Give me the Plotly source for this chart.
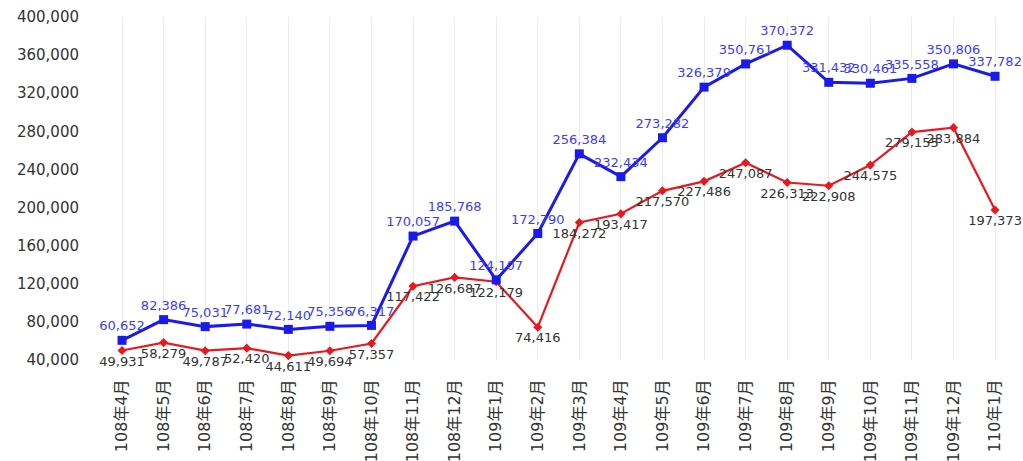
import plotly.graph_objects as go

months = ["108年4月", "108年5月", "108年6月", "108年7月", "108年8月", "108年9月", "108年10月",
          "108年11月", "108年12月", "109年1月", "109年2月", "109年3月", "109年4月", "109年5月",
          "109年6月", "109年7月", "109年8月", "109年9月", "109年10月", "109年11月", "109年12月", "110年1月"]
blue_vals = [60652, 82386, 75031, 77681, 72140, 75356, 76317, 170057, 185768, 124107, 172790,
             256384, 232434, 273282, 326379, 350761, 370372, 331432, 330461, 335558, 350806, 337782]
red_vals = [49931, 58279, 49787, 52420, 44611, 49694, 57357, 117422, 126687, 122179, 74416,
            184272, 193417, 217570, 227486, 247087, 226313, 222908, 244575, 279155, 283884, 197373]
y_ticks = [40000, 80000, 120000, 160000, 200000, 240000, 280000, 320000, 360000, 400000]

font_fam = "DejaVu Sans, Noto Sans CJK TC, sans-serif"

fig = go.Figure()
fig.add_trace(go.Scatter(
    x=months, y=red_vals, mode="lines+markers+text",
    line=dict(color="#e8191e", width=2.2),
    marker=dict(symbol="diamond", size=7, color="#e8191e"),
    text=[f"{v:,}" for v in red_vals], textposition="bottom center",
    textfont=dict(color="#333333", size=13, family=font_fam),
    cliponaxis=False, showlegend=False))
fig.add_trace(go.Scatter(
    x=months, y=blue_vals, mode="lines+markers+text",
    line=dict(color="#1a1aee", width=3),
    marker=dict(symbol="square", size=9, color="#1a1aee"),
    text=[f"{v:,}" for v in blue_vals], textposition="top center",
    textfont=dict(color="#3c3cff", size=13, family=font_fam),
    cliponaxis=False, showlegend=False))

fig.update_layout(
    width=1023, height=461,
    margin=dict(l=105, r=8, t=17, b=101),
    paper_bgcolor="white", plot_bgcolor="white",
    font=dict(family=font_fam, color="#333333", size=13),
)
fig.update_xaxes(range=[-0.41, 21.48], tickangle=-90, showgrid=True, gridcolor="#ececec",
                 tickfont=dict(size=16, color="#333333"), showline=False, automargin=False,
                 ticks="outside", ticklen=12, tickcolor="rgba(0,0,0,0)")
fig.update_yaxes(range=[40000, 400000], tickvals=y_ticks, automargin=False,
                 ticktext=[f"{v:,}" for v in y_ticks], showgrid=False, zeroline=False,
                 tickfont=dict(size=15, color="#333333"),
                 ticks="outside", ticklen=22, tickcolor="rgba(0,0,0,0)")

fig.write_html("out.html")
